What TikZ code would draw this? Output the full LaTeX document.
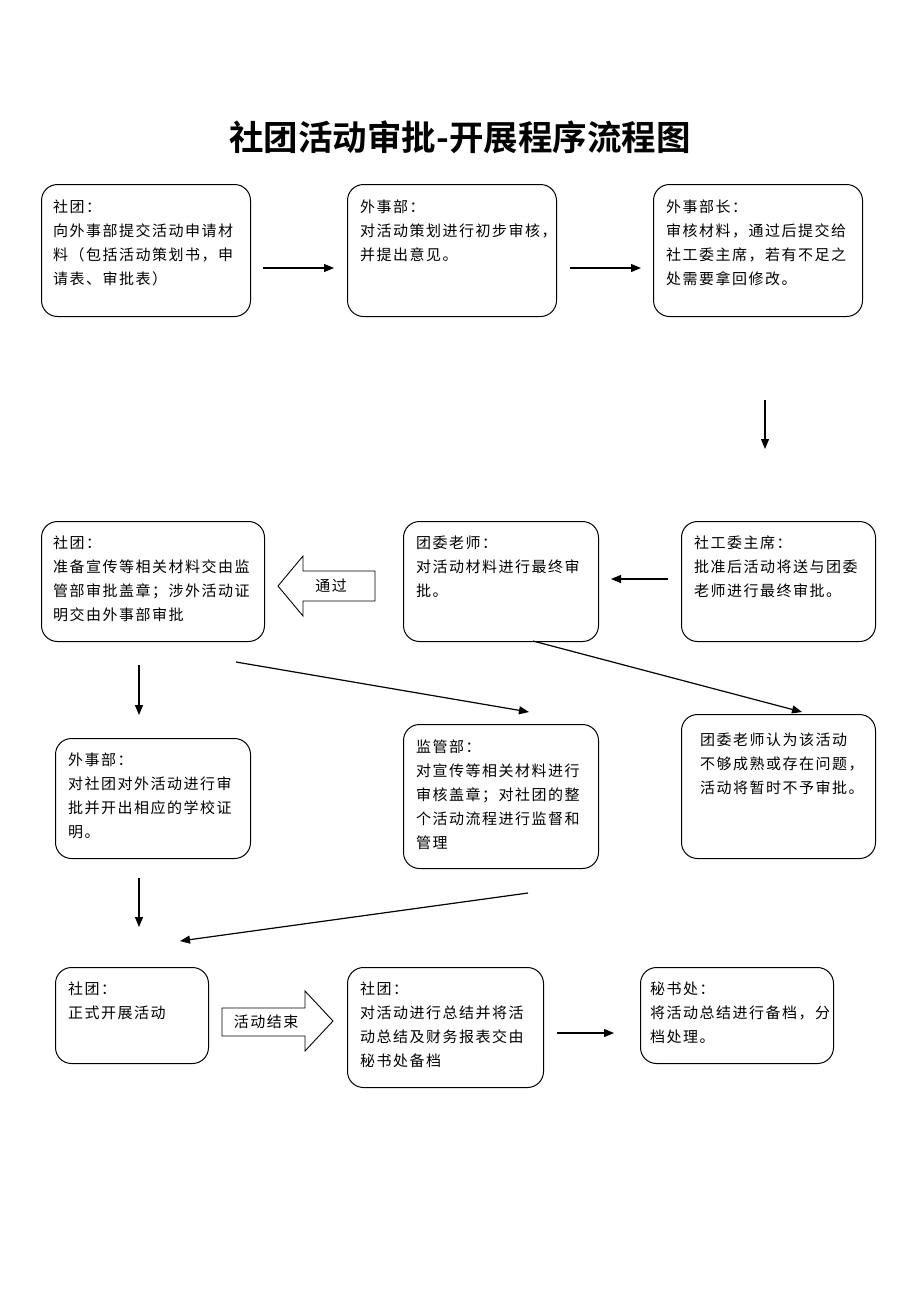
\documentclass[tikz,border=0pt]{standalone}
\usepackage{fontspec}
\setmainfont{Noto Sans CJK SC}
\newfontfamily\txtfont[LetterSpace=10]{Noto Sans CJK SC}
\newfontfamily\ttlfont{Noto Sans CJK SC Bold}
\usetikzlibrary{arrows.meta}
\tikzset{
  box/.style={draw, line width=1pt, rounded corners=16pt, anchor=north west, inner sep=0pt},
  txt/.style={anchor=north west, inner sep=0pt, align=left, font=\txtfont\fontsize{15pt}{24pt}\selectfont},
  conn/.style={line width=1.2pt, -{Triangle[length=10pt,width=8pt]}},
  blockarrow/.style={draw, line width=0.9pt, fill=white},
  lbl/.style={inner sep=0pt, font=\txtfont\fontsize{15pt}{18pt}\selectfont}
}
\newcommand{\sr}{\rule{0pt}{14pt}}
\begin{document}
\begin{tikzpicture}[x=1pt,y=-1pt]
\useasboundingbox[fill=white] (0,0) rectangle (920,1302);

% title
\node[inner sep=0pt, font=\ttlfont\fontsize{34.5pt}{38pt}\selectfont] (title) at (460,137) {社团活动审批-开展程序流程图};

% row 1
\node[box, minimum width=209pt, minimum height=132pt] (b1) at (41,184) {};
\node[txt] (t1) at (53,198.5) {\sr 社团：\\向外事部提交活动申请材\\料（包括活动策划书，申\\请表、审批表）};
\node[box, minimum width=209pt, minimum height=132pt] (b2) at (347,184) {};
\node[txt] (t2) at (360,198.5) {\sr 外事部：\\对活动策划进行初步审核，\\并提出意见。};
\node[box, minimum width=209pt, minimum height=132pt] (b3) at (653,184) {};
\node[txt] (t3) at (666,198.5) {\sr 外事部长：\\审核材料，通过后提交给\\社工委主席，若有不足之\\处需要拿回修改。};

\coordinate (a1s) at (263,268); \coordinate (a1e) at (334,268);
\draw[conn] (a1s) -- (a1e);
\coordinate (a2s) at (570,268); \coordinate (a2e) at (641,268);
\draw[conn] (a2s) -- (a2e);
\coordinate (a3s) at (765,400); \coordinate (a3e) at (765,449);
\draw[conn] (a3s) -- (a3e);

% row 2
\node[box, minimum width=223pt, minimum height=120pt] (b4) at (41,521) {};
\node[txt] (t4) at (53,534.5) {\sr 社团：\\准备宣传等相关材料交由监\\管部审批盖章；涉外活动证\\明交由外事部审批};
\node[box, minimum width=195pt, minimum height=120pt] (b5) at (403,521) {};
\node[txt] (t5) at (416,534.5) {\sr 团委老师：\\对活动材料进行最终审\\批。};
\node[box, minimum width=194pt, minimum height=120pt] (b6) at (681,521) {};
\node[txt] (t6) at (694,534.5) {\sr 社工委主席：\\批准后活动将送与团委\\老师进行最终审批。};

\coordinate (a4s) at (668,579); \coordinate (a4e) at (611,579);
\draw[conn] (a4s) -- (a4e);

% block arrow "通过"
\draw[blockarrow] (375,571) -- (303,571) -- (303,556) -- (278,586) -- (303,616) -- (303,601) -- (375,601) -- cycle;
\node[lbl] (pass) at (331,586) {通过};

% row 3 connectors
\coordinate (a5s) at (139,665); \coordinate (a5e) at (139,715);
\draw[conn] (a5s) -- (a5e);
\coordinate (a6s) at (236,662); \coordinate (a6e) at (529,712);
\draw[conn] (a6s) -- (a6e);
\coordinate (a7s) at (533,641); \coordinate (a7e) at (802,712);
\draw[conn] (a7s) -- (a7e);

% row 3
\node[box, minimum width=195pt, minimum height=120pt] (b7) at (55,738) {};
\node[txt] (t7) at (68,751.5) {\sr 外事部：\\对社团对外活动进行审\\批并开出相应的学校证\\明。};
\node[box, minimum width=195pt, minimum height=144pt] (b8) at (403,724) {};
\node[txt] (t8) at (416,738.5) {\sr 监管部：\\对宣传等相关材料进行\\审核盖章；对社团的整\\个活动流程进行监督和\\管理};
\node[box, minimum width=194pt, minimum height=144pt] (b9) at (681,714) {};
\node[txt] (t9) at (700,731.5) {\sr 团委老师认为该活动\\不够成熟或存在问题，\\活动将暂时不予审批。};

% row 4 connectors
\coordinate (a8s) at (139,878); \coordinate (a8e) at (139,927);
\draw[conn] (a8s) -- (a8e);
\coordinate (a9s) at (528,893); \coordinate (a9e) at (180,941);
\draw[conn] (a9s) -- (a9e);

% row 4
\node[box, minimum width=153pt, minimum height=96pt] (b10) at (55,967) {};
\node[txt] (t10) at (68,980.5) {\sr 社团：\\正式开展活动};
\node[box, minimum width=196pt, minimum height=120pt] (b11) at (347,967) {};
\node[txt] (t11) at (360,980.5) {\sr 社团：\\对活动进行总结并将活\\动总结及财务报表交由\\秘书处备档};
\node[box, minimum width=193pt, minimum height=96pt] (b12) at (640,967) {};
\node[txt] (t12) at (650,980.5) {\sr 秘书处：\\将活动总结进行备档，分\\档处理。};

% block arrow "活动结束"
\draw[blockarrow] (222,1008) -- (305,1008) -- (305,991) -- (333,1021) -- (305,1051) -- (305,1036) -- (222,1036) -- cycle;
\node[lbl] (end) at (266,1022) {活动结束};

\coordinate (a10s) at (557,1033); \coordinate (a10e) at (614,1033);
\draw[conn] (a10s) -- (a10e);
\end{tikzpicture}
\end{document}
